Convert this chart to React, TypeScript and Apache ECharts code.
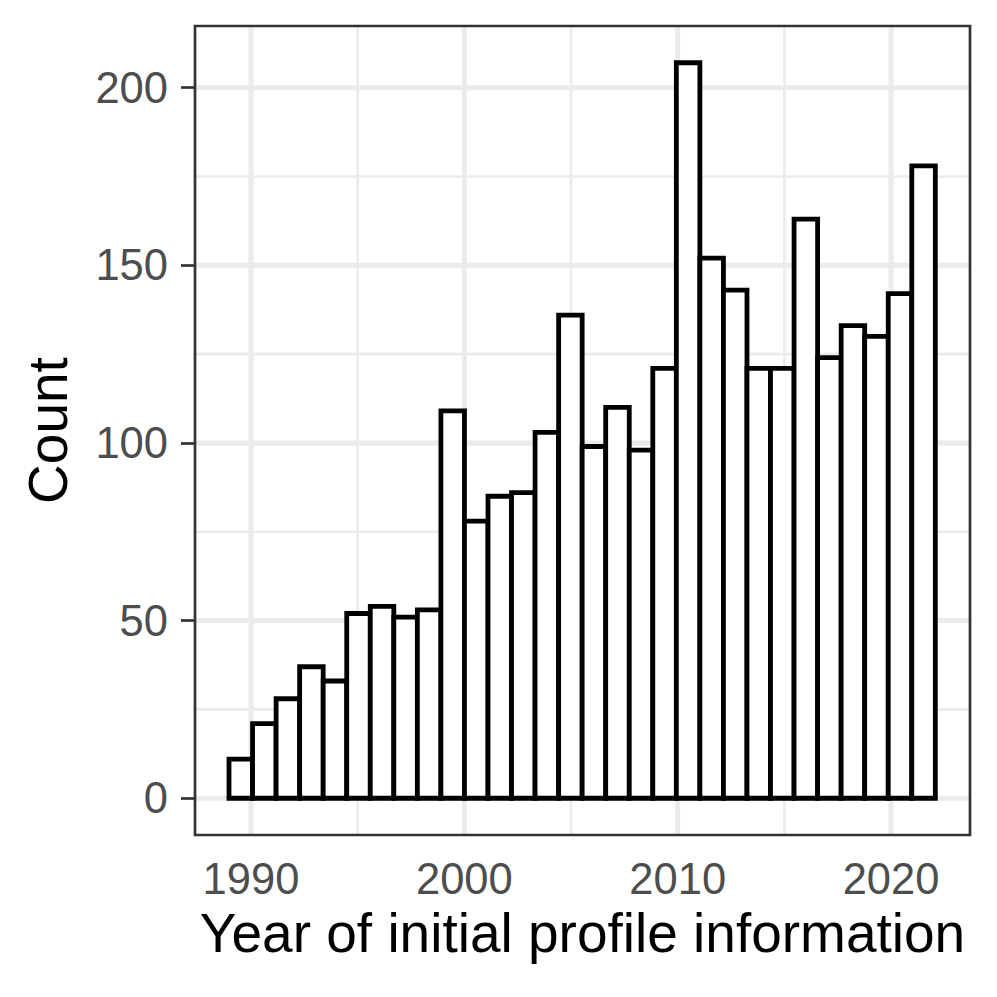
import React, { useEffect, useRef } from "react";
import * as echarts from "echarts";

// Histogram data: counts per bin, bins of equal width starting at BIN_START
const BIN_START = 1988.97;
const BIN_WIDTH = 1.1035;
const counts = [
  11, 21, 28, 37, 33, 52, 54, 51, 53, 109,
  78, 85, 86, 103, 136, 99, 110, 98, 121, 207,
  152, 143, 121, 121, 163, 124, 133, 130, 142, 178,
];

const xTicks = [1990, 2000, 2010, 2020];
const xMinor = [1995, 2005, 2015];
const yTicks = [0, 50, 100, 150, 200];
const yMinor = [25, 75, 125, 175];

const X_MIN = 1987.376;
const X_MAX = 2023.7;
const Y_MIN = -10.35;
const Y_MAX = 217.35;

const FONT = "'Liberation Sans', Arial, Helvetica, sans-serif";

export default function App() {
  const ref = useRef<HTMLDivElement>(null);

  useEffect(() => {
    if (!ref.current) return;
    const chart = echarts.init(ref.current, undefined, { renderer: "svg" });

    const binData = counts.map((c, i) => [
      BIN_START + i * BIN_WIDTH,
      BIN_START + (i + 1) * BIN_WIDTH,
      c,
    ]);

    const gridData: number[][] = [];
    xTicks.forEach((v) => gridData.push([v, 0, 1]));
    xMinor.forEach((v) => gridData.push([v, 0, 0]));
    yTicks.forEach((v) => gridData.push([v, 1, 1]));
    yMinor.forEach((v) => gridData.push([v, 1, 0]));
    // minor first so major draws on top
    gridData.sort((a, b) => a[2] - b[2]);

    const option: any = {
      animation: false,
      backgroundColor: "#ffffff",
      grid: {
        left: 195,
        top: 26,
        right: 27,
        bottom: 162,
        show: true,
        backgroundColor: "transparent",
        borderColor: "#333333",
        borderWidth: 2.7,
        z: 10,
      },
      xAxis: {
        type: "value",
        min: X_MIN,
        max: X_MAX,
        name: "Year of initial profile information",
        nameLocation: "middle",
        nameGap: 70,
        nameTextStyle: { fontSize: 55, color: "#000000", fontFamily: FONT },
        axisLine: { show: false },
        splitLine: { show: false },
        axisTick: {
          show: true,
          customValues: xTicks,
          length: 14,
          lineStyle: { color: "#333333", width: 2.7 },
        },
        axisLabel: {
          show: true,
          customValues: xTicks,
          margin: 22,
          fontSize: 43.5,
          color: "#4D4D4D",
          fontFamily: FONT,
          formatter: (v: number) => String(Math.round(v)),
        },
      },
      yAxis: {
        type: "value",
        min: Y_MIN,
        max: Y_MAX,
        name: "Count",
        nameLocation: "middle",
        nameGap: 120,
        nameRotate: 90,
        nameTextStyle: { fontSize: 55, color: "#000000", fontFamily: FONT },
        axisLine: { show: false },
        splitLine: { show: false },
        axisTick: {
          show: true,
          customValues: yTicks,
          length: 14,
          lineStyle: { color: "#333333", width: 2.7 },
        },
        axisLabel: {
          show: true,
          customValues: yTicks,
          margin: 27,
          fontSize: 43.5,
          color: "#4D4D4D",
          fontFamily: FONT,
          formatter: (v: number) => String(Math.round(v)),
        },
      },
      series: [
        {
          type: "custom",
          z: 1,
          silent: true,
          clip: true,
          data: gridData,
          renderItem: (params: any, api: any) => {
            const v = api.value(0);
            const isY = api.value(1) === 1;
            const major = api.value(2) === 1;
            const p0 = isY ? api.coord([X_MIN, v]) : api.coord([v, Y_MIN]);
            const p1 = isY ? api.coord([X_MAX, v]) : api.coord([v, Y_MAX]);
            return {
              type: "line",
              shape: { x1: p0[0], y1: p0[1], x2: p1[0], y2: p1[1] },
              style: { stroke: "#EBEBEB", lineWidth: major ? 5 : 2.6 },
            };
          },
        },
        {
          type: "custom",
          z: 3,
          silent: true,
          data: binData,
          renderItem: (params: any, api: any) => {
            const x0 = api.value(0);
            const x1 = api.value(1);
            const c = api.value(2);
            const p0 = api.coord([x0, 0]);
            const p1 = api.coord([x1, c]);
            return {
              type: "rect",
              shape: {
                x: p0[0],
                y: p1[1],
                width: p1[0] - p0[0],
                height: p0[1] - p1[1],
              },
              style: { fill: "#ffffff", stroke: "#000000", lineWidth: 4.8 },
            };
          },
        },
      ],
    };

    chart.setOption(option);
    return () => chart.dispose();
  }, []);

  return (
    <div
      ref={ref}
      style={{ position: "fixed", left: 0, top: 0, width: 997, height: 997 }}
    />
  );
}
